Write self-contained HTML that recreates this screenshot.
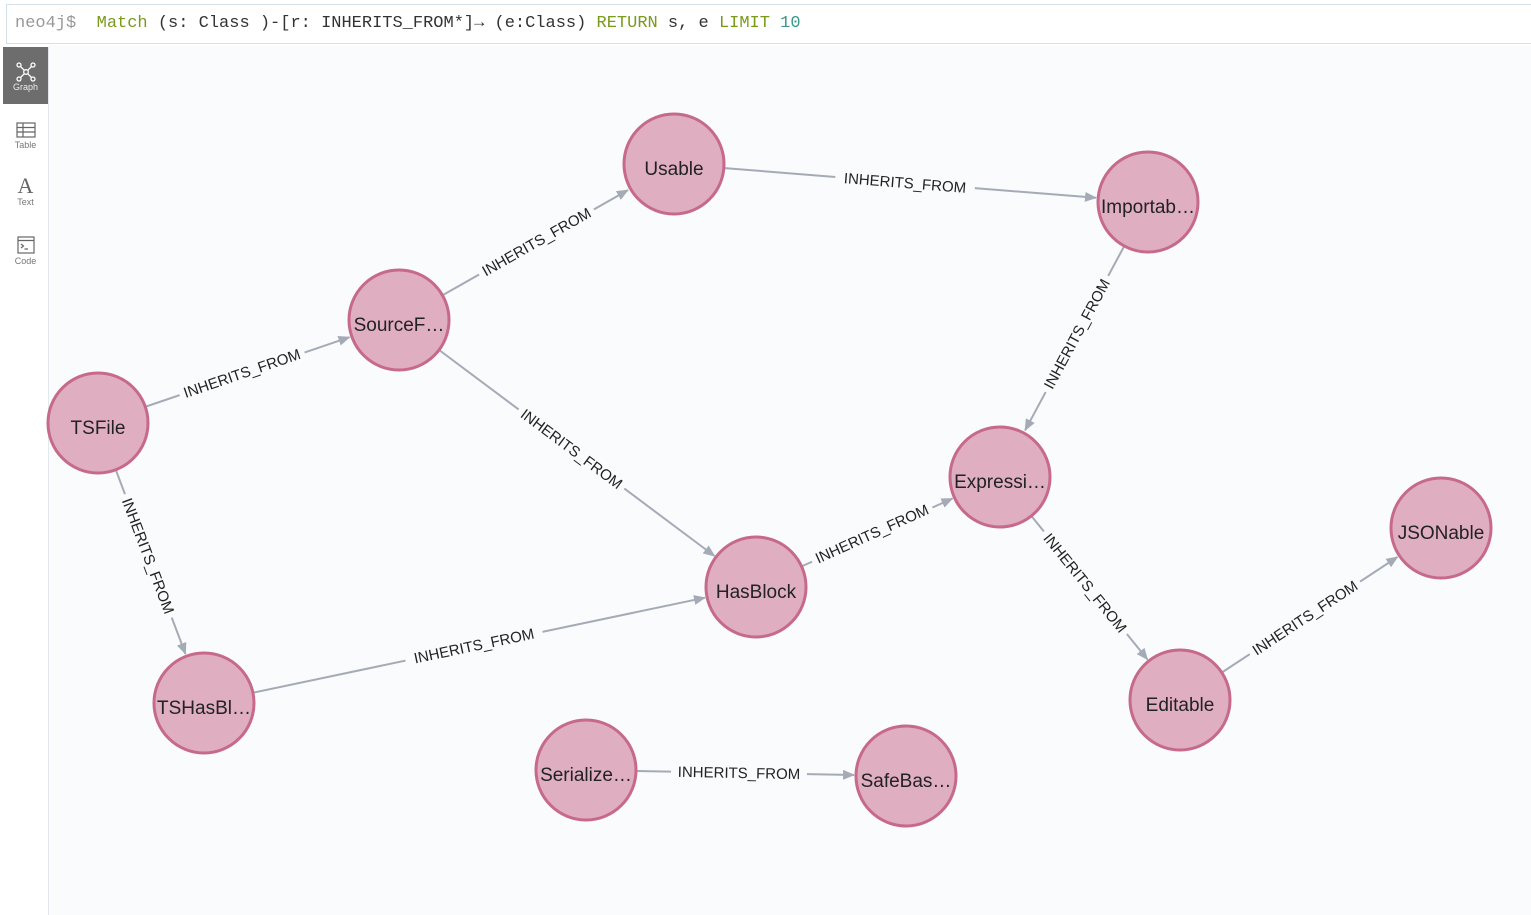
<!DOCTYPE html>
<html><head><meta charset="utf-8"><style>
html,body{margin:0;padding:0;width:1531px;height:915px;overflow:hidden;background:#fff;font-family:"Liberation Sans",sans-serif}
.bar{position:absolute;left:6px;top:4px;width:1530px;height:40px;border:1px solid #d5e0ea;background:#fff;box-sizing:border-box;font-family:"Liberation Mono",monospace;font-size:17px;line-height:38px;padding-left:8px;color:#333;white-space:pre}
.side{position:absolute;left:3px;top:47px;width:45px;height:868px;background:#fff;border-right:1px solid #e3e8ee}
.btn{position:absolute;left:0;width:45px;height:57px;text-align:center;font-size:9px;color:#777}
.canvas{position:absolute;left:49px;top:45px;width:1482px;height:870px;background:#f9fbfd}
</style></head><body>
<div class="canvas"></div>
<div class="bar"><span style="color:#999">neo4j$</span>  <span style="color:#7a9a1a">Match</span> (s: Class )-[r: INHERITS_FROM*]→ (e:Class) <span style="color:#7a9a1a">RETURN</span> s, e <span style="color:#7a9a1a">LIMIT</span> <span style="color:#3a9a8a">10</span></div>
<div class="side">
 <div class="btn" style="top:0;background:#6d6d6d;color:#eee">
  <svg width="24" height="24" viewBox="0 0 24 24" style="margin-top:13px" fill="none" stroke="#fff" stroke-width="1.3"><circle cx="5" cy="5" r="2"/><circle cx="19" cy="5" r="2"/><circle cx="5" cy="19" r="2"/><circle cx="19" cy="19" r="2"/><circle cx="12" cy="12" r="2.3"/><path d="M6.5 6.5L10 10M17.5 6.5L14 10M6.5 17.5L10 14M17.5 17.5L14 14"/></svg><div style="margin-top:-4px">Graph</div></div>
 <div class="btn" style="top:60px"><svg width="20" height="16" viewBox="0 0 20 16" style="margin-top:15px" fill="none" stroke="#666" stroke-width="1.2"><rect x="1" y="1" width="18" height="14"/><path d="M1 5.5H19M1 10H19M7 1V15"/></svg><div>Table</div></div>
 <div class="btn" style="top:118px"><div style="font-family:'Liberation Serif',serif;font-size:22px;color:#666;margin-top:10px;line-height:22px">A</div><div>Text</div></div>
 <div class="btn" style="top:176px"><svg width="18" height="18" viewBox="0 0 18 18" style="margin-top:13px" fill="none" stroke="#666" stroke-width="1.2"><rect x="1" y="1" width="16" height="16"/><path d="M1 4.5H17M4 8L6.5 10L4 12M7.5 13H11"/></svg><div>Code</div></div>
</div>
<svg width="1531" height="915" style="position:absolute;left:0;top:0" font-family="Liberation Sans, sans-serif">
<defs><marker id="a" markerWidth="12" markerHeight="10" refX="11" refY="5" orient="auto" markerUnits="userSpaceOnUse"><path d="M0 0L12 5L0 10z" fill="#a5abb6"/></marker></defs>
<g stroke="#a5abb6" stroke-width="2" marker-end="url(#a)">
<line x1="443.4" y1="294.8" x2="627.9" y2="190.1"/>
<line x1="724.8" y1="168.1" x2="1096" y2="197.8"/>
<line x1="1123.8" y1="246.9" x2="1025.1" y2="430.3"/>
<line x1="146.2" y1="406.5" x2="349.5" y2="337.2"/>
<line x1="439.8" y1="350.5" x2="714.5" y2="556"/>
<line x1="116.1" y1="470.7" x2="185.5" y2="654"/>
<line x1="802.5" y1="566" x2="952.5" y2="498.5"/>
<line x1="253.9" y1="692.5" x2="705" y2="597.7"/>
<line x1="1032" y1="516.7" x2="1147.5" y2="659.5"/>
<line x1="1222.6" y1="672" x2="1397.5" y2="557"/>
<line x1="637" y1="771" x2="854" y2="775"/>
</g>
<g font-size="15" fill="#222" text-anchor="middle">
<g transform="translate(536.5,242) rotate(-29.6)"><rect x="-66" y="-10" width="132" height="20" fill="#f9fbfd"/><text y="5">INHERITS_FROM</text></g>
<g transform="translate(905,183) rotate(4.6)"><rect x="-70" y="-10" width="140" height="20" fill="#f9fbfd"/><text y="5">INHERITS_FROM</text></g>
<g transform="translate(1077,334) rotate(-61.7)"><rect x="-66" y="-10" width="132" height="20" fill="#f9fbfd"/><text y="5">INHERITS_FROM</text></g>
<g transform="translate(242,373.5) rotate(-18.9)"><rect x="-66" y="-10" width="132" height="20" fill="#f9fbfd"/><text y="5">INHERITS_FROM</text></g>
<g transform="translate(571.5,449) rotate(36.8)"><rect x="-66" y="-10" width="132" height="20" fill="#f9fbfd"/><text y="5">INHERITS_FROM</text></g>
<g transform="translate(148,556) rotate(69.3)"><rect x="-66" y="-10" width="132" height="20" fill="#f9fbfd"/><text y="5">INHERITS_FROM</text></g>
<g transform="translate(872,534) rotate(-24.3)"><rect x="-66" y="-10" width="132" height="20" fill="#f9fbfd"/><text y="5">INHERITS_FROM</text></g>
<g transform="translate(474,646) rotate(-11.9)"><rect x="-70" y="-10" width="140" height="20" fill="#f9fbfd"/><text y="5">INHERITS_FROM</text></g>
<g transform="translate(1085,583) rotate(51.1)"><rect x="-66" y="-10" width="132" height="20" fill="#f9fbfd"/><text y="5">INHERITS_FROM</text></g>
<g transform="translate(1305,618) rotate(-33.4)"><rect x="-66" y="-10" width="132" height="20" fill="#f9fbfd"/><text y="5">INHERITS_FROM</text></g>
<g transform="translate(739,773) rotate(1.1)"><rect x="-68" y="-10" width="136" height="20" fill="#f9fbfd"/><text y="5">INHERITS_FROM</text></g>
</g>
<g fill="#dfafc1" stroke="#c6698b" stroke-width="3">
<circle cx="674" cy="164" r="50"/><circle cx="1148" cy="202" r="50"/><circle cx="399" cy="320" r="50"/><circle cx="98" cy="423" r="50"/><circle cx="1000" cy="477" r="50"/><circle cx="1441" cy="528" r="50"/><circle cx="756" cy="587" r="50"/><circle cx="1180" cy="700" r="50"/><circle cx="204" cy="703" r="50"/><circle cx="586" cy="770" r="50"/><circle cx="906" cy="776" r="50"/>
</g>
<g font-size="19" fill="#222" text-anchor="middle">
<text x="674" y="175">Usable</text><text x="1148" y="213">Importab…</text><text x="399" y="331">SourceF…</text><text x="98" y="434">TSFile</text><text x="1000" y="488">Expressi…</text><text x="1441" y="539">JSONable</text><text x="756" y="598">HasBlock</text><text x="1180" y="711">Editable</text><text x="204" y="714">TSHasBl…</text><text x="586" y="781">Serialize…</text><text x="906" y="787">SafeBas…</text>
</g>
</svg>
</body></html>
